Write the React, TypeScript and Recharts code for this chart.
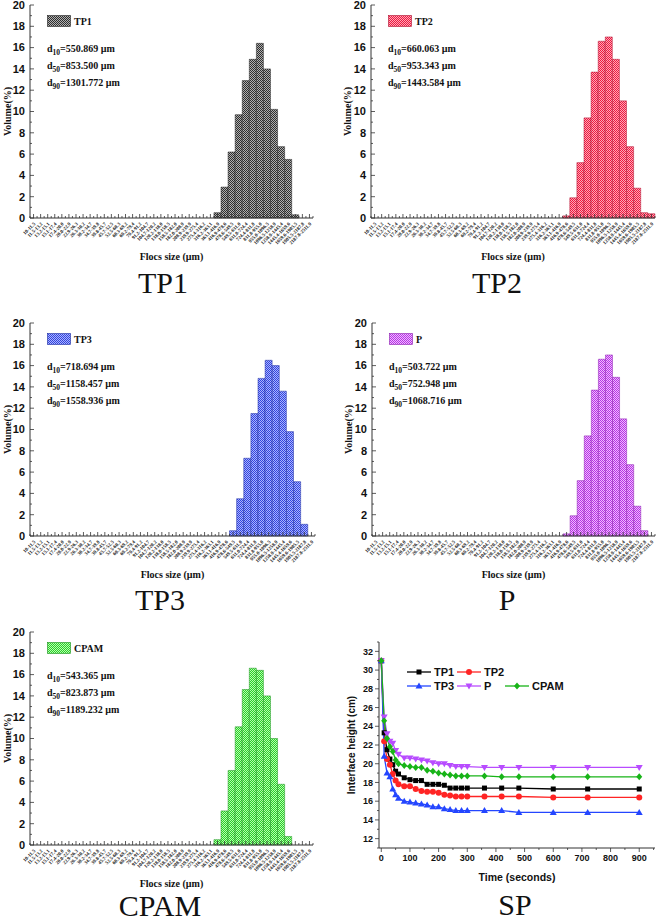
import React from "react";
import { BarChart, Bar, XAxis, YAxis, Legend, LineChart, Line } from "recharts";

// floc size classes (µm), 40 log-spaced bins
const SIZE_BINS = [
  "10-11.5", "11.5-13.2", "13.2-15.1", "15.1-17.4", "17.4-20.0", "20.0-22.9", "22.9-26.3", "26.3-30.2",
  "30.2-34.7", "34.7-39.8", "39.8-45.7", "45.7-52.5", "52.5-60.3", "60.3-69.2", "69.2-79.4", "79.4-91.2",
  "91.2-104.7", "104.7-120.2", "120.2-138.0", "138.0-158.5", "158.5-182.0", "182.0-208.9", "208.9-239.9",
  "239.9-275.4", "275.4-316.2", "316.2-363.1", "363.1-416.9", "416.9-478.6", "478.6-549.5", "549.5-631.0",
  "631.0-724.4", "724.4-831.8", "831.8-955.0", "955.0-1096.5", "1096.5-1258.9", "1258.9-1445.4",
  "1445.4-1659.6", "1659.6-1905.5", "1905.5-2187.8", "2187.8-2511.9",
];

// volume (%) per bin
const TP1_VOL = [
  0, 0, 0, 0, 0, 0, 0, 0, 0, 0,
  0, 0, 0, 0, 0, 0, 0, 0, 0, 0,
  0, 0, 0, 0, 0, 0, 0.5, 2.9, 6.2, 9.7,
  12.9, 14.9, 16.4, 14.0, 10.2, 6.7, 5.5, 0.3, 0, 0,
];
const TP2_VOL = [
  0, 0, 0, 0, 0, 0, 0, 0, 0, 0,
  0, 0, 0, 0, 0, 0, 0, 0, 0, 0,
  0, 0, 0, 0, 0, 0, 0, 0.2, 1.9, 5.2,
  9.4, 13.7, 16.6, 17.0, 14.9, 11.0, 6.7, 2.8, 0.5, 0.4,
];
const TP3_VOL = [
  0, 0, 0, 0, 0, 0, 0, 0, 0, 0,
  0, 0, 0, 0, 0, 0, 0, 0, 0, 0,
  0, 0, 0, 0, 0, 0, 0, 0, 0.5, 3.5,
  7.3, 11.5, 14.8, 16.5, 16.0, 13.6, 9.8, 5.1, 1.1, 0,
];
const P_VOL = [
  0, 0, 0, 0, 0, 0, 0, 0, 0, 0,
  0, 0, 0, 0, 0, 0, 0, 0, 0, 0,
  0, 0, 0, 0, 0, 0, 0, 0.2, 1.9, 5.2,
  9.4, 13.7, 16.6, 17.0, 14.9, 11.0, 6.7, 2.8, 0.5, 0,
];
const CPAM_VOL = [
  0, 0, 0, 0, 0, 0, 0, 0, 0, 0,
  0, 0, 0, 0, 0, 0, 0, 0, 0, 0,
  0, 0, 0, 0, 0, 0, 0.5, 3.2, 7.0, 11.1,
  14.6, 16.6, 16.4, 14.0, 10.0, 5.7, 0.8, 0, 0, 0,
];

const TP1_D = ["550.869", "853.500", "1301.772"];
const TP2_D = ["660.063", "953.343", "1443.584"];
const TP3_D = ["718.694", "1158.457", "1558.936"];
const P_D = ["503.722", "752.948", "1068.716"];
const CPAM_D = ["543.365", "823.873", "1189.232"];

const VOLUME_TICKS = [0, 1, 2, 3, 4, 5, 6, 7, 8, 9, 10, 11, 12, 13, 14, 15, 16, 17, 18, 19, 20];

// settling test (SP)
const TIMES = [0, 10, 20, 30, 40, 50, 60, 80, 100, 120, 140, 160, 180, 200, 220, 240, 260, 280, 300, 360, 420, 480, 600, 720, 900];
const TP1_H = [31, 23.3, 21.5, 20.5, 19.9, 19.2, 18.9, 18.5, 18.3, 18.2, 18.2, 17.8, 17.8, 17.8, 17.7, 17.4, 17.4, 17.4, 17.4, 17.4, 17.4, 17.4, 17.3, 17.3, 17.3];
const TP2_H = [31, 22.4, 20.5, 19.9, 18.9, 18.2, 17.8, 17.6, 17.6, 17.3, 17.1, 17.0, 17.0, 16.9, 16.7, 16.6, 16.5, 16.5, 16.5, 16.5, 16.5, 16.5, 16.4, 16.4, 16.4];
const TP3_H = [31, 20.8, 19.0, 18.6, 17.3, 16.7, 16.3, 16.0, 15.9, 15.8, 15.7, 15.6, 15.4, 15.4, 15.2, 15.1, 15.0, 15.0, 15.0, 15.0, 15.0, 14.8, 14.8, 14.8, 14.8];
const P_H = [31, 25.0, 23.2, 22.4, 22.2, 21.4, 21.0, 20.6, 20.6, 20.5, 20.4, 20.3, 20.1, 20.0, 20.0, 19.8, 19.7, 19.7, 19.7, 19.6, 19.6, 19.6, 19.6, 19.6, 19.6];
const CPAM_H = [31, 24.6, 22.7, 21.8, 21.3, 20.4, 20.0, 19.8, 19.7, 19.6, 19.6, 19.3, 19.2, 19.0, 18.9, 18.8, 18.7, 18.7, 18.7, 18.7, 18.6, 18.6, 18.6, 18.6, 18.6];

const TIME_TICKS = [0, 100, 200, 300, 400, 500, 600, 700, 800, 900];
const HEIGHT_TICKS = [12, 14, 16, 18, 20, 22, 24, 26, 28, 30, 32];
const TIME_DOMAIN = [-8, 955];
const HEIGHT_DOMAIN = [11, 33];

const SERIF = '"Liberation Serif", "Times New Roman", serif';
const SANS = '"Liberation Sans", Arial, sans-serif';
const AXIS = "#333";

// checker fill patterns for the bars
const PATTERNS = [
  { id: "pat-tp1", dark: "#2e2e2e", light: "#b0b0b0" },
  { id: "pat-tp2", dark: "#ec1a40", light: "#ffa6b6" },
  { id: "pat-tp3", dark: "#3444dc", light: "#a8b4ff" },
  { id: "pat-p", dark: "#b436e4", light: "#f2b8ff" },
  { id: "pat-cpam", dark: "#2ccc2c", light: "#b4ffac" },
];

const PatternDefs = () => (
  <svg width={0} height={0} style={{ position: "absolute" }}>
    <defs>
      {PATTERNS.map((p) => (
        <pattern key={p.id} id={p.id} width={2} height={2} patternUnits="userSpaceOnUse">
          <rect width={2} height={2} fill={p.light} />
          <rect width={1} height={1} fill={p.dark} />
          <rect x={1} y={1} width={1} height={1} fill={p.dark} />
        </pattern>
      ))}
    </defs>
  </svg>
);

const BinTick = (props: any) => {
  const { x, y, payload, index, band } = props;
  const ay = y - 2;
  return (
    <g>
      <line x1={x} x2={x} y1={ay} y2={ay - 4} stroke={AXIS} strokeWidth={0.8} />
      <line x1={x - band / 2} x2={x - band / 2} y1={ay} y2={ay - 2} stroke={AXIS} strokeWidth={0.8} />
      {index === SIZE_BINS.length - 1 && (
        <line x1={x + band / 2} x2={x + band / 2} y1={ay} y2={ay - 2} stroke={AXIS} strokeWidth={0.8} />
      )}
      <text
        x={x + 1}
        y={y + 3}
        dy="0.35em"
        transform={`rotate(-45 ${x + 1} ${y + 3})`}
        textAnchor="end"
        fontSize={5}
        fontWeight="bold"
        fontFamily={SERIF}
        fill="#222"
      >
        {payload.value}
      </text>
    </g>
  );
};

const VolTick = (props: any) => {
  const { x, y, payload } = props;
  const ax = x + 3;
  const major = payload.value % 2 === 0;
  return (
    <g>
      <line x1={ax} x2={ax + (major ? 4 : 2)} y1={y} y2={y} stroke={AXIS} strokeWidth={0.8} />
      {major && (
        <text x={x - 2} y={y} dy="0.35em" textAnchor="end" fontSize={11} fontWeight="bold" fontFamily={SANS} fill="#111">
          {payload.value}
        </text>
      )}
    </g>
  );
};

const HistKey = ({ name, pat, edge, d }: { name: string; pat: string; edge: string; d: string[] }) => (
  <div style={{ fontFamily: SERIF, fontWeight: "bold", fontSize: 10, color: "#111", lineHeight: "17px", whiteSpace: "nowrap" }}>
    <div style={{ display: "flex", alignItems: "center", height: 12 }}>
      <svg width={24} height={12}>
        <rect x={0.5} y={0.5} width={23} height={11} fill={`url(#${pat})`} stroke={edge} strokeWidth={0.6} />
      </svg>
      <span style={{ marginLeft: 3 }}>{name}</span>
    </div>
    <div style={{ marginTop: 13 }}>
      {["10", "50", "90"].map((k, i) => (
        <div key={k}>
          d<sub style={{ fontSize: 7.5, lineHeight: 0, verticalAlign: "-3px" }}>{k}</sub>={d[i]} µm
        </div>
      ))}
    </div>
  </div>
);

type HistProps = {
  name: string;
  values: number[];
  d: string[];
  pat: string;
  edge: string;
  left: number;
  top: number;
  width: number;
  ml: number;
  mr: number;
  yw: number;
};

const Histogram = ({ name, values, d, pat, edge, left, top, width, ml, mr, yw }: HistProps) => {
  const rows = SIZE_BINS.map((bin, i) => ({ bin, v: values[i] }));
  const band = (width - ml - mr - yw) / SIZE_BINS.length;
  const labelStyle = { fontFamily: SERIF, fontWeight: "bold", fontSize: 10, fill: "#111" };
  return (
    <div style={{ position: "absolute", left, top }}>
      <BarChart width={width} height={265} data={rows} margin={{ top: 5, right: mr, left: ml, bottom: 0 }} barCategoryGap={0}>
        <XAxis
          dataKey="bin"
          interval={0}
          height={47}
          tickSize={0}
          tickMargin={2}
          tick={(p: any) => <BinTick {...p} band={band} />}
          axisLine={{ stroke: AXIS }}
          label={{ value: "Flocs size (µm)", position: "insideBottom", offset: 5, style: labelStyle }}
        />
        <XAxis xAxisId="top" dataKey="bin" orientation="top" height={0} tick={false} tickLine={false} axisLine={{ stroke: AXIS }} />
        <YAxis
          domain={[0, 20]}
          ticks={VOLUME_TICKS}
          interval={0}
          width={yw}
          tickSize={0}
          tickMargin={3}
          tick={<VolTick />}
          axisLine={{ stroke: AXIS }}
          label={{ value: "Volume(%)", angle: -90, position: "insideLeft", offset: 7, style: { ...labelStyle, textAnchor: "middle" } }}
        />
        <YAxis yAxisId="right" orientation="right" width={0} tick={false} tickLine={false} axisLine={{ stroke: AXIS }} />
        <Legend
          layout="vertical"
          align="center"
          verticalAlign="middle"
          wrapperStyle={{ left: ml + yw + 17, top: 15, width: "auto" }}
          content={() => <HistKey name={name} pat={pat} edge={edge} d={d} />}
        />
        <Bar dataKey="v" fill={`url(#${pat})`} stroke={edge} strokeWidth={0.5} isAnimationActive={false} />
      </BarChart>
    </div>
  );
};

// SP plot box: 276 x 206 px
const SP_W = 331;
const SP_H = 290;
const SP_M = { top: 32, right: 6, left: 0, bottom: 0 };
const SP_YW = 49;
const SP_XH = 52;
const PX_PER_SEC = (SP_W - SP_M.left - SP_M.right - SP_YW) / (TIME_DOMAIN[1] - TIME_DOMAIN[0]);
const PX_PER_CM = (SP_H - SP_M.top - SP_XH) / (HEIGHT_DOMAIN[1] - HEIGHT_DOMAIN[0]);

const TimeTick = (props: any) => {
  const { x, y, payload } = props;
  const half = 50 * PX_PER_SEC;
  return (
    <g>
      <line x1={x} x2={x} y1={y} y2={y + 4} stroke={AXIS} strokeWidth={0.8} />
      <line x1={x + half} x2={x + half} y1={y} y2={y + 2} stroke={AXIS} strokeWidth={0.8} />
      <text x={x} y={y + 10} dy="0.35em" textAnchor="middle" fontSize={9} fontWeight="bold" fontFamily={SANS} fill="#111">
        {payload.value}
      </text>
    </g>
  );
};

const HeightTick = (props: any) => {
  const { x, y, payload } = props;
  const one = PX_PER_CM;
  return (
    <g>
      <line x1={x} x2={x - 4} y1={y} y2={y} stroke={AXIS} strokeWidth={0.8} />
      <line x1={x} x2={x - 2} y1={y - one} y2={y - one} stroke={AXIS} strokeWidth={0.8} />
      {payload.value === HEIGHT_TICKS[0] && <line x1={x} x2={x - 2} y1={y + one} y2={y + one} stroke={AXIS} strokeWidth={0.8} />}
      <text x={x - 6} y={y} dy="0.35em" textAnchor="end" fontSize={9} fontWeight="bold" fontFamily={SANS} fill="#111">
        {payload.value}
      </text>
    </g>
  );
};

const Marker = ({ shape, cx, cy, color }: { shape: string; cx: number; cy: number; color: string }) => {
  if (cx == null || cy == null) return null;
  if (shape === "square") return <rect x={cx - 2.5} y={cy - 2.5} width={5} height={5} fill={color} />;
  if (shape === "circle") return <circle cx={cx} cy={cy} r={3} fill={color} />;
  if (shape === "up") return <polygon points={`${cx},${cy - 3.5} ${cx + 3.5},${cy + 2.5} ${cx - 3.5},${cy + 2.5}`} fill={color} />;
  if (shape === "down") return <polygon points={`${cx},${cy + 3.5} ${cx + 3.5},${cy - 2.5} ${cx - 3.5},${cy - 2.5}`} fill={color} />;
  return <polygon points={`${cx},${cy - 3.5} ${cx + 3},${cy} ${cx},${cy + 3.5} ${cx - 3},${cy}`} fill={color} />;
};

const SP_SERIES = [
  { key: "TP1", color: "#000000", shape: "square", kx: 0, ky: 0 },
  { key: "TP2", color: "#ff2424", shape: "circle", kx: 50, ky: 0 },
  { key: "TP3", color: "#2446ff", shape: "up", kx: 0, ky: 14 },
  { key: "P", color: "#b84cff", shape: "down", kx: 50, ky: 14 },
  { key: "CPAM", color: "#18b418", shape: "diamond", kx: 98, ky: 14 },
];

const SpKey = () => (
  <div style={{ position: "relative", width: 160, height: 28, fontFamily: SANS, fontWeight: "bold", fontSize: 11, color: "#111" }}>
    {SP_SERIES.map((s) => (
      <div key={s.key} style={{ position: "absolute", left: s.kx, top: s.ky, display: "flex", alignItems: "center", height: 14, whiteSpace: "nowrap" }}>
        <svg width={24} height={10}>
          <line x1={0} x2={24} y1={5} y2={5} stroke={s.color} strokeWidth={1.3} />
          <Marker shape={s.shape} cx={12} cy={5} color={s.color} />
        </svg>
        <span style={{ marginLeft: 3 }}>{s.key}</span>
      </div>
    ))}
  </div>
);

const SettlingChart = () => {
  const rows = TIMES.map((t, i) => ({ t, TP1: TP1_H[i], TP2: TP2_H[i], TP3: TP3_H[i], P: P_H[i], CPAM: CPAM_H[i] }));
  const labelStyle = { fontFamily: SANS, fontWeight: "bold", fontSize: 10.5, fill: "#111" };
  return (
    <div style={{ position: "absolute", left: 330, top: 610 }}>
      <LineChart width={SP_W} height={SP_H} data={rows} margin={SP_M}>
        <XAxis
          dataKey="t"
          type="number"
          domain={TIME_DOMAIN}
          ticks={TIME_TICKS}
          interval={0}
          height={SP_XH}
          tickSize={0}
          tickMargin={0}
          tick={<TimeTick />}
          axisLine={{ stroke: AXIS }}
          label={{ value: "Time (seconds)", position: "insideBottom", offset: 19, style: labelStyle }}
        />
        <XAxis xAxisId="top" orientation="top" height={0} tick={false} tickLine={false} axisLine={{ stroke: AXIS }} />
        <YAxis
          type="number"
          domain={HEIGHT_DOMAIN}
          ticks={HEIGHT_TICKS}
          interval={0}
          width={SP_YW}
          tickSize={0}
          tickMargin={0}
          tick={<HeightTick />}
          axisLine={{ stroke: AXIS }}
          label={{ value: "Interface height (cm)", angle: -90, position: "insideLeft", offset: 21, style: { ...labelStyle, fontSize: 10, textAnchor: "middle" } }}
        />
        <YAxis yAxisId="right" orientation="right" width={0} tick={false} tickLine={false} axisLine={{ stroke: AXIS }} />
        <Legend
          layout="vertical"
          align="center"
          verticalAlign="middle"
          wrapperStyle={{ left: 77, top: 55, width: "auto" }}
          content={() => <SpKey />}
        />
        {SP_SERIES.map((s) => (
          <Line
            key={s.key}
            dataKey={s.key}
            stroke={s.color}
            strokeWidth={1.3}
            dot={(p: any) => <Marker key={`${s.key}-${p.index}`} shape={s.shape} cx={p.cx} cy={p.cy} color={s.color} />}
            isAnimationActive={false}
          />
        ))}
      </LineChart>
    </div>
  );
};

const Title = ({ text, cx, cy }: { text: string; cx: number; cy: number }) => (
  <div
    style={{
      position: "absolute",
      left: cx - 100,
      top: cy - 13,
      width: 200,
      textAlign: "center",
      fontFamily: SERIF,
      fontSize: 30,
      lineHeight: "26px",
      color: "#111",
    }}
  >
    {text}
  </div>
);

export default function App() {
  return (
    <div style={{ position: "absolute", left: 0, top: 0, width: 661, height: 921, background: "#fff", overflow: "hidden" }}>
      <PatternDefs />
      <Histogram name="TP1" values={TP1_VOL} d={TP1_D} pat="pat-tp1" edge="#222" left={0} top={0} width={330} ml={0} mr={17} yw={30} />
      <Histogram name="TP2" values={TP2_VOL} d={TP2_D} pat="pat-tp2" edge="#b01030" left={330} top={0} width={331} ml={10} mr={6} yw={31} />
      <Histogram name="TP3" values={TP3_VOL} d={TP3_D} pat="pat-tp3" edge="#1a2aa0" left={0} top={318} width={330} ml={0} mr={15} yw={30} />
      <Histogram name="P" values={P_VOL} d={P_D} pat="pat-p" edge="#8a1cb0" left={330} top={318} width={331} ml={11} mr={6} yw={31} />
      <Histogram name="CPAM" values={CPAM_VOL} d={CPAM_D} pat="pat-cpam" edge="#18901a" left={0} top={627} width={330} ml={0} mr={17} yw={30} />
      <SettlingChart />
      <Title text="TP1" cx={163} cy={283} />
      <Title text="TP2" cx={497} cy={283} />
      <Title text="TP3" cx={160} cy={600} />
      <Title text="P" cx={507} cy={600} />
      <Title text="CPAM" cx={160} cy={906} />
      <Title text="SP" cx={515} cy={905} />
    </div>
  );
}
